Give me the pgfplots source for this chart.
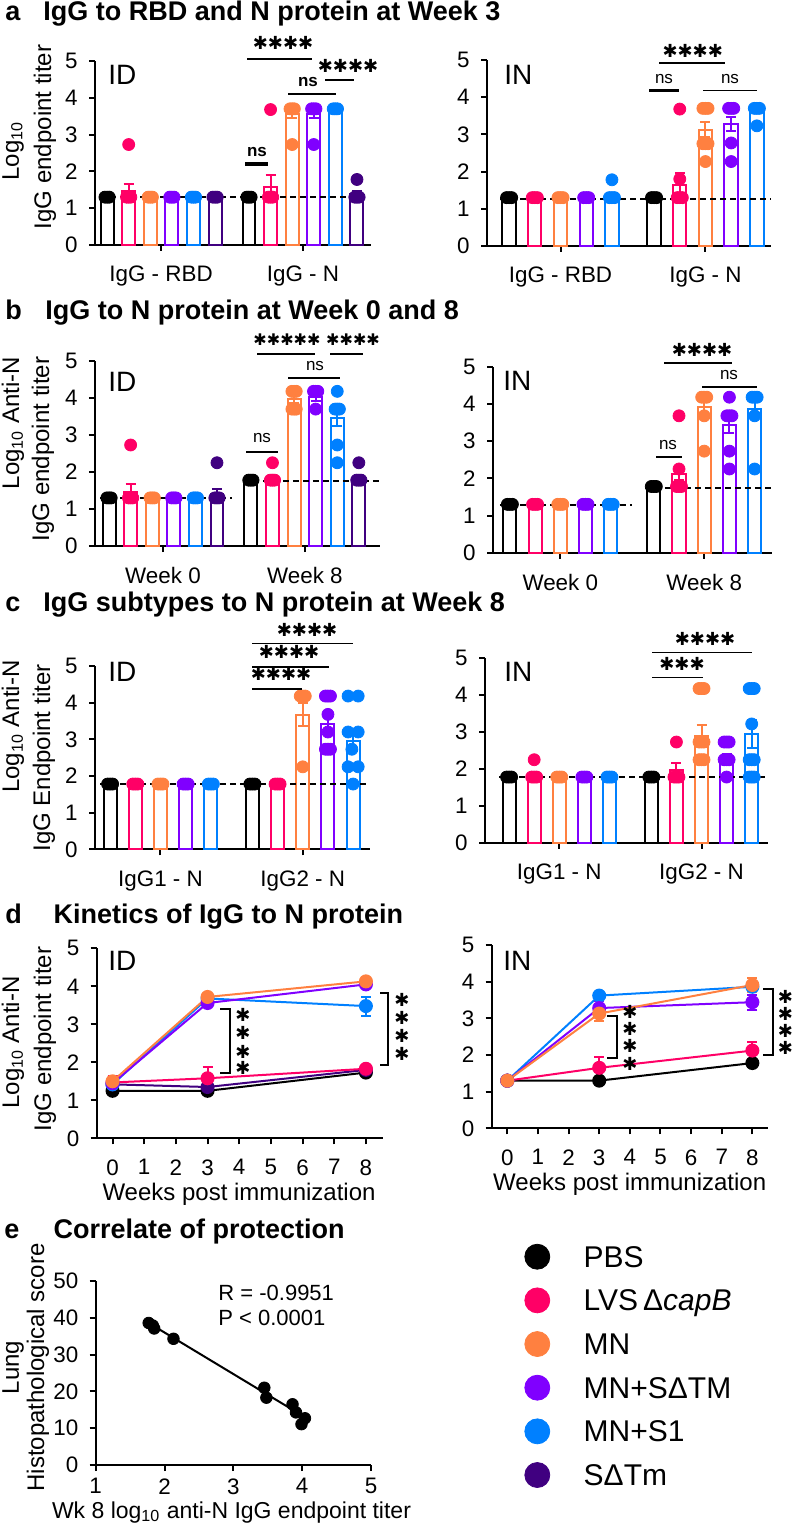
\documentclass[border=0pt]{standalone}
\usepackage{fontspec}
\setmainfont{Liberation Sans}
\newfontfamily\djv{DejaVu Sans}
\usepackage{graphicx}
\usepackage{pgfplots}
\pgfplotsset{compat=1.18}
\definecolor{cP}{RGB}{0,0,0}
\definecolor{cL}{RGB}{255,0,102}
\definecolor{cM}{RGB}{255,128,64}
\definecolor{cT}{RGB}{128,0,255}
\definecolor{cS}{RGB}{0,128,255}
\definecolor{cD}{RGB}{64,0,128}
\newcommand\mysz[1]{\fontsize{#1}{#1}\selectfont}
\newcommand\tf{\fontsize{11.2}{13}\selectfont}
\newcommand\stars[2][9]{{\djv\mysz{#1}#2}}
\pgfplotsset{
 gp/.style={scale only axis, anchor=south west, clip=false, enlargelimits=false,
   axis lines=left, axis line style={-, line width=1pt},
   every outer x axis line/.append style={-}, every outer y axis line/.append style={-},
   tick align=outside, major tick length=3pt, tick style={line width=1pt, black},
   every tick label/.append style={font=\tf},
   xticklabel style={yshift=-4pt},
   yticklabel style={xshift=-2.2pt},
   /pgf/number format/assume math mode=true,
   yticklabel={\tf\pgfmathprintnumber{\tick}},
   xticklabel={\tf\pgfmathprintnumber{\tick}},
   ymin=0, ymax=5, ytick={0,...,5}},
 B/.style={ybar, bar shift=0pt, fill=white, draw=#1, line width=1pt,
   /pgfplots/error bars/y dir=both, /pgfplots/error bars/y explicit,
   /pgfplots/error bars/error bar style={draw=#1, line width=1pt},
   /pgfplots/error bars/error mark options={draw=#1, rotate=90, mark size=2.5pt, line width=1pt}},
 D/.style={only marks, mark=*, mark size=3pt, color=#1},
 LOD/.style={black, line width=1pt, dash pattern=on 3pt off 2pt},
 L/.style={color=#1, line width=1pt, mark=*, mark size=3pt, mark options={solid, fill=#1},
   /pgfplots/error bars/y dir=both, /pgfplots/error bars/y explicit,
   /pgfplots/error bars/error bar style={draw=#1, line width=1pt},
   /pgfplots/error bars/error mark options={draw=#1, rotate=90, mark size=2.5pt, line width=1pt}},
}
\begin{document}
\begin{tikzpicture}
\useasboundingbox (0,0) rectangle (396.5pt,-762pt);
% ---------------- a ID
\begin{axis}[gp, at={(47.5pt,-122.5pt)}, width=138pt, height=92pt, xmin=-0.56, xmax=12.22, bar width=0.6,
  xtick={2.5,9.07}, xticklabels={{\tf IgG - RBD}, {\tf IgG - N}}]
\addplot[B=cP] coordinates {(0,1.3)+-(0,0) (6.57,1.3)+-(0,0)};
\addplot[B=cL] coordinates {(1,1.46)+-(0,0.2) (7.57,1.58)+-(0,0.32)};
\addplot[B=cM] coordinates {(2,1.3)+-(0,0) (8.57,3.55)+-(0,0.1)};
\addplot[B=cT] coordinates {(3,1.3)+-(0,0) (9.57,3.55)+-(0,0.1)};
\addplot[B=cS] coordinates {(4,1.3)+-(0,0) (10.57,3.7)+-(0,0)};
\addplot[B=cD] coordinates {(5,1.3)+-(0,0) (11.57,1.38)+-(0,0.08)};
\addplot[LOD] coordinates {(-0.32,1.3) (11.94,1.3)};
\addplot[D=cP] coordinates {(-0.1,1.3)(0,1.3)(0.1,1.3)(6.47,1.3)(6.57,1.3)(6.67,1.3)};
\addplot[D=cL] coordinates {(0.9,1.3)(1,1.3)(1.1,1.3)(1,2.73)(7.47,1.3)(7.57,1.3)(7.67,1.3)(7.57,3.68)};
\addplot[D=cM] coordinates {(1.9,1.3)(2,1.3)(2.1,1.3)(8.47,3.7)(8.57,3.7)(8.67,3.7)(8.57,2.73)};
\addplot[D=cT] coordinates {(2.9,1.3)(3,1.3)(3.1,1.3)(9.47,3.7)(9.57,3.7)(9.67,3.7)(9.57,2.73)};
\addplot[D=cS] coordinates {(3.9,1.3)(4,1.3)(4.1,1.3)(10.47,3.7)(10.57,3.7)(10.67,3.7)};
\addplot[D=cD] coordinates {(4.9,1.3)(5,1.3)(5.1,1.3)(11.47,1.3)(11.57,1.3)(11.67,1.3)(11.57,1.78)};
\end{axis}
% ---------------- a IN
\begin{axis}[gp, at={(243.5pt,-123pt)}, width=142pt, height=93pt, xmin=-0.86, xmax=10.19, bar width=0.52,
  xtick={2,7.64}, xticklabels={{\tf IgG - RBD}, {\tf IgG - N}}]
\addplot[B=cP] coordinates {(0,1.3)+-(0,0) (5.64,1.3)+-(0,0)};
\addplot[B=cL] coordinates {(1,1.3)+-(0,0) (6.64,1.64)+-(0,0.31)};
\addplot[B=cM] coordinates {(2,1.3)+-(0,0) (7.64,3.13)+-(0,0.21)};
\addplot[B=cT] coordinates {(3,1.3)+-(0,0) (8.64,3.28)+-(0,0.2)};
\addplot[B=cS] coordinates {(4,1.3)+-(0,0) (9.64,3.65)+-(0,0)};
\addplot[LOD] coordinates {(-0.35,1.27) (10.19,1.27)};
\addplot[D=cP] coordinates {(-0.1,1.3)(0,1.3)(0.1,1.3)(5.54,1.3)(5.64,1.3)(5.74,1.3)};
\addplot[D=cL] coordinates {(0.9,1.3)(1,1.3)(1.1,1.3)(6.54,1.3)(6.64,1.3)(6.74,1.3)(6.64,1.8)(6.64,3.68)};
\addplot[D=cM] coordinates {(1.9,1.3)(2,1.3)(2.1,1.3)(7.54,3.7)(7.64,3.7)(7.74,3.7)(7.54,2.75)(7.64,2.75)(7.74,2.75)(7.64,2.27)};
\addplot[D=cT] coordinates {(2.9,1.3)(3,1.3)(3.1,1.3)(8.54,3.7)(8.64,3.7)(8.74,3.7)(8.64,2.77)(8.64,2.27)};
\addplot[D=cS] coordinates {(3.9,1.3)(4,1.3)(4.1,1.3)(4,1.78)(9.54,3.7)(9.64,3.7)(9.74,3.7)(9.64,3.23)};
\end{axis}
% ---------------- b ID
\begin{axis}[gp, at={(47.5pt,-273pt)}, width=142.5pt, height=92.5pt, xmin=-0.65, xmax=12.55, bar width=0.6,
  xtick={2.5,9.07}, xticklabels={{\tf Week 0}, {\tf Week 8}}]
\addplot[B=cP] coordinates {(0,1.3)+-(0,0) (6.57,1.78)+-(0,0)};
\addplot[B=cL] coordinates {(1,1.47)+-(0,0.2) (7.57,1.8)+-(0,0)};
\addplot[B=cM] coordinates {(2,1.3)+-(0,0) (8.57,3.97)+-(0,0.1)};
\addplot[B=cT] coordinates {(3,1.3)+-(0,0) (9.57,4.03)+-(0,0.1)};
\addplot[B=cS] coordinates {(4,1.3)+-(0,0) (10.57,3.45)+-(0,0.2)};
\addplot[B=cD] coordinates {(5,1.4)+-(0,0.13) (11.57,1.8)+-(0,0)};
\addplot[LOD] coordinates {(-0.4,1.3) (5.7,1.3)};
\addplot[LOD] coordinates {(6.2,1.75) (12.5,1.75)};
\addplot[D=cP] coordinates {(-0.1,1.3)(0,1.3)(0.1,1.3)(6.47,1.78)(6.57,1.78)(6.67,1.78)};
\addplot[D=cL] coordinates {(0.9,1.3)(1,1.3)(1.1,1.3)(1,2.73)(7.47,1.78)(7.57,1.78)(7.67,1.78)(7.57,2.25)};
\addplot[D=cM] coordinates {(1.9,1.3)(2,1.3)(2.1,1.3)(8.47,4.18)(8.57,4.18)(8.67,4.18)(8.47,3.7)(8.57,3.7)(8.67,3.7)};
\addplot[D=cT] coordinates {(2.9,1.3)(3,1.3)(3.1,1.3)(9.47,4.18)(9.57,4.18)(9.67,4.18)(9.57,3.7)};
\addplot[D=cS] coordinates {(3.9,1.3)(4,1.3)(4.1,1.3)(10.57,4.18)(10.47,3.7)(10.57,3.7)(10.67,3.7)(10.57,2.73)(10.57,2.25)};
\addplot[D=cD] coordinates {(4.9,1.3)(5,1.3)(5.1,1.3)(5,2.25)(11.47,1.78)(11.57,1.78)(11.67,1.78)(11.57,2.25)};
\end{axis}
% ---------------- b IN
\begin{axis}[gp, at={(246.5pt,-276.35pt)}, width=139.5pt, height=93pt, xmin=-0.67, xmax=10.4, bar width=0.52,
  xtick={2,7.71}, xticklabels={{\tf Week 0}, {\tf Week 8}}]
\addplot[B=cP] coordinates {(0,1.3)+-(0,0) (5.71,1.78)+-(0,0)};
\addplot[B=cL] coordinates {(1,1.3)+-(0,0) (6.71,2.12)+-(0,0.17)};
\addplot[B=cM] coordinates {(2,1.3)+-(0,0) (7.71,3.91)+-(0,0.15)};
\addplot[B=cT] coordinates {(3,1.3)+-(0,0) (8.71,3.43)+-(0,0.2)};
\addplot[B=cS] coordinates {(4,1.3)+-(0,0) (9.71,3.85)+-(0,0.2)};
\addplot[LOD] coordinates {(-0.4,1.27) (4.84,1.27)};
\addplot[LOD] coordinates {(5.36,1.75) (10.4,1.75)};
\addplot[D=cP] coordinates {(-0.1,1.3)(0,1.3)(0.1,1.3)(5.61,1.78)(5.71,1.78)(5.81,1.78)};
\addplot[D=cL] coordinates {(0.9,1.3)(1,1.3)(1.1,1.3)(6.61,1.78)(6.71,1.78)(6.81,1.78)(6.71,2.25)(6.71,3.68)};
\addplot[D=cM] coordinates {(1.9,1.3)(2,1.3)(2.1,1.3)(7.61,4.18)(7.71,4.18)(7.81,4.18)(7.71,3.68)(7.71,2.73)};
\addplot[D=cT] coordinates {(2.9,1.3)(3,1.3)(3.1,1.3)(8.71,4.18)(8.61,3.68)(8.71,3.68)(8.81,3.68)(8.71,2.73)(8.71,2.25)};
\addplot[D=cS] coordinates {(3.9,1.3)(4,1.3)(4.1,1.3)(9.61,4.18)(9.71,4.18)(9.81,4.18)(9.71,3.68)(9.71,2.25)};
\end{axis}
% ---------------- c ID
\begin{axis}[gp, at={(47.5pt,-424.65pt)}, width=137.5pt, height=91.65pt, xmin=-0.6, xmax=10.32, bar width=0.52,
  xtick={2,7.65}, xticklabels={{\tf IgG1 - N}, {\tf IgG2 - N}}]
\addplot[B=cP] coordinates {(0,1.78)+-(0,0) (5.65,1.78)+-(0,0)};
\addplot[B=cL] coordinates {(1,1.78)+-(0,0) (6.65,1.78)+-(0,0)};
\addplot[B=cM] coordinates {(2,1.78)+-(0,0) (7.65,3.67)+-(0,0.31)};
\addplot[B=cT] coordinates {(3,1.78)+-(0,0) (8.65,3.42)+-(0,0.18)};
\addplot[B=cS] coordinates {(4,1.78)+-(0,0) (9.65,2.95)+-(0,0.25)};
\addplot[LOD] coordinates {(-0.4,1.77) (10.3,1.77)};
\addplot[D=cP] coordinates {(-0.1,1.78)(0,1.78)(0.1,1.78)(5.55,1.78)(5.65,1.78)(5.75,1.78)};
\addplot[D=cL] coordinates {(0.9,1.78)(1,1.78)(1.1,1.78)(6.55,1.78)(6.65,1.78)(6.75,1.78)};
\addplot[D=cM] coordinates {(1.9,1.78)(2,1.78)(2.1,1.78)(7.55,4.18)(7.65,4.18)(7.75,4.18)(7.65,2.25)};
\addplot[D=cT] coordinates {(2.9,1.78)(3,1.78)(3.1,1.78)(8.55,4.18)(8.65,4.18)(8.75,4.18)(8.65,3.68)(8.65,3.2)(8.55,2.73)(8.65,2.73)(8.75,2.73)};
\addplot[D=cS] coordinates {(3.9,1.78)(4,1.78)(4.1,1.78)(9.45,4.18)(9.85,4.18)(9.45,3.2)(9.85,3.2)(9.6,2.73)(9.45,2.25)(9.85,2.25)(9.65,1.78)};
\end{axis}
% ---------------- c IN
\begin{axis}[gp, at={(242.5pt,-421.35pt)}, width=141.5pt, height=92.2pt, xmin=-0.96, xmax=10.32, bar width=0.52,
  xtick={2,7.67}, xticklabels={{\tf IgG1 - N}, {\tf IgG2 - N}}]
\addplot[B=cP] coordinates {(0,1.78)+-(0,0) (5.67,1.78)+-(0,0)};
\addplot[B=cL] coordinates {(1,1.85)+-(0,0.07) (6.67,1.98)+-(0,0.17)};
\addplot[B=cM] coordinates {(2,1.78)+-(0,0) (7.67,2.9)+-(0,0.3)};
\addplot[B=cT] coordinates {(3,1.78)+-(0,0) (8.67,2.3)+-(0,0.1)};
\addplot[B=cS] coordinates {(4,1.78)+-(0,0) (9.67,2.96)+-(0,0.38)};
\addplot[LOD] coordinates {(-0.4,1.77) (10.3,1.77)};
\addplot[D=cP] coordinates {(-0.1,1.78)(0,1.78)(0.1,1.78)(5.57,1.78)(5.67,1.78)(5.77,1.78)};
\addplot[D=cL] coordinates {(0.9,1.78)(1,1.78)(1.1,1.78)(1,2.25)(6.57,1.78)(6.67,1.78)(6.77,1.78)(6.67,2.73)};
\addplot[D=cM] coordinates {(1.9,1.78)(2,1.78)(2.1,1.78)(7.57,4.18)(7.67,4.18)(7.77,4.18)(7.57,2.73)(7.67,2.73)(7.77,2.73)(7.57,2.25)(7.67,2.25)(7.77,2.25)};
\addplot[D=cT] coordinates {(2.9,1.78)(3,1.78)(3.1,1.78)(8.57,2.73)(8.67,2.73)(8.77,2.73)(8.57,2.25)(8.67,2.25)(8.77,2.25)(8.67,1.78)};
\addplot[D=cS] coordinates {(3.9,1.78)(4,1.78)(4.1,1.78)(9.57,4.18)(9.67,4.18)(9.77,4.18)(9.67,3.22)(9.57,2.25)(9.67,2.25)(9.77,2.25)(9.57,1.78)(9.67,1.78)(9.77,1.78)};
\end{axis}
% ---------------- d ID
\begin{axis}[gp, at={(48.35pt,-569.15pt)}, width=143.15pt, height=95pt, xmin=-0.5, xmax=8.54, xtick={0,...,8}]
\addplot[L=cP] coordinates {(0,1.25)+-(0,0) (3,1.25)+-(0,0) (8,1.73)+-(0,0)};
\addplot[L=cD] coordinates {(0,1.42)+-(0,0) (3,1.35)+-(0,0) (8,1.8)+-(0,0)};
\addplot[L=cL] coordinates {(0,1.47)+-(0,0.18) (3,1.58)+-(0,0.3) (8,1.83)+-(0,0.03)};
\addplot[L=cS] coordinates {(0,1.42)+-(0,0) (3,3.68)+-(0,0) (8,3.48)+-(0,0.25)};
\addplot[L=cT] coordinates {(0,1.45)+-(0,0) (3,3.56)+-(0,0) (8,4.05)+-(0,0)};
\addplot[L=cM] coordinates {(0,1.5)+-(0,0) (3,3.72)+-(0,0) (8,4.13)+-(0,0)};
\end{axis}
% ---------------- d IN
\begin{axis}[gp, at={(245.85pt,-564.15pt)}, width=138.3pt, height=91.65pt, xmin=-0.51, xmax=8.52, xtick={0,...,8}]
\addplot[L=cP] coordinates {(0,1.3)+-(0,0) (3,1.3)+-(0,0) (8,1.78)+-(0,0)};
\addplot[L=cL] coordinates {(0,1.3)+-(0,0) (3,1.65)+-(0,0.3) (8,2.12)+-(0,0.23)};
\addplot[L=cS] coordinates {(0,1.3)+-(0,0) (3,3.62)+-(0,0) (8,3.86)+-(0,0)};
\addplot[L=cT] coordinates {(0,1.3)+-(0,0) (3,3.28)+-(0,0.2) (8,3.44)+-(0,0.2)};
\addplot[L=cM] coordinates {(0,1.3)+-(0,0) (3,3.13)+-(0,0.2) (8,3.91)+-(0,0.18)};
\end{axis}
% ---------------- e
\begin{axis}[gp, at={(47.85pt,-732.5pt)}, width=137.65pt, height=92pt, xmin=1, xmax=5, ymin=0, ymax=50,
  ytick={0,10,...,50}, xtick={1,...,5}, xticklabel style={inner sep=1pt, yshift=1.5pt}]
\addplot[black, line width=1pt] coordinates {(1.77,38.6) (3.88,14.8)};
\addplot[D=black, mark size=2.9pt] coordinates {(1.77,38.6)(1.83,37.9)(1.85,37.1)(2.13,34.3)(3.45,21.0)(3.48,18.3)(3.86,16.5)(3.91,14.3)(4.04,12.7)(3.99,11.1)};
\end{axis}
% ---------------- legend
\begin{axis}[scale only axis, anchor=south west, at={(268.65pt,-737.5pt)}, width=10pt, height=109.15pt,
  hide axis, xmin=0, xmax=1, ymin=0, ymax=5, clip=false]
\addplot[only marks, mark=*, mark size=6.25pt, color=cP] coordinates {(0,5)};
\addplot[only marks, mark=*, mark size=6.25pt, color=cL] coordinates {(0,4)};
\addplot[only marks, mark=*, mark size=6.25pt, color=cM] coordinates {(0,3)};
\addplot[only marks, mark=*, mark size=6.25pt, color=cT] coordinates {(0,2)};
\addplot[only marks, mark=*, mark size=6.25pt, color=cS] coordinates {(0,1)};
\addplot[only marks, mark=*, mark size=6.25pt, color=cD] coordinates {(0,0)};
\tikzset{lg/.style={anchor=base west, inner sep=0pt, font=\mysz{15}, xshift=23pt, yshift=-5.3pt}}
\node[lg] at (axis cs:0,5) {PBS};
\node[lg] at (axis cs:0,4) {LVS\,Δ\textit{capB}};
\node[lg] at (axis cs:0,3) {MN};
\node[lg] at (axis cs:0,2) {MN+SΔTM};
\node[lg] at (axis cs:0,1) {MN+S1};
\node[lg] at (axis cs:0,0) {SΔTm};
\end{axis}
% ---------------- texts and annotations (pixel coordinates)
\begin{scope}[x=0.5pt,y=-0.5pt]
\tikzset{tt/.style={anchor=base west, inner sep=0pt, font=\mysz{13.5}\bfseries},
  yl/.style={rotate=90, inner sep=0pt, font=\mysz{12}},
  pn/.style={anchor=base west, inner sep=0pt, font=\mysz{14}},
  ns/.style={font=\mysz{8.5}, inner sep=0pt},
  st/.style={inner sep=0pt},
  al/.style={line width=0.8pt}}
\node[tt] at (5,20.7) {a}; \node[tt] at (43,20.7) {IgG to RBD and N protein at Week 3};
\node[tt] at (5,320) {b}; \node[tt] at (45,320) {IgG to N protein at Week 0 and 8};
\node[tt] at (5,611.7) {c}; \node[tt] at (43,611.7) {IgG subtypes to N protein at Week 8};
\node[tt] at (5,923.3) {d}; \node[tt] at (53.3,923.3) {Kinetics of IgG to N protein};
\node[tt] at (4,1238) {e}; \node[tt] at (53.3,1238) {Correlate of protection};
% y labels
\node[yl] at (13,151) {Log\textsubscript{10}};
\node[yl] at (45,137) {IgG endpoint titer};
\node[yl] at (13,423) {Log\textsubscript{10} Anti-N};
\node[yl] at (43,449) {IgG endpoint titer};
\node[yl] at (13,726.7) {Log\textsubscript{10} Anti-N};
\node[yl] at (44,758) {IgG Endpoint titer};
\node[yl] at (13,1042.5) {Log\textsubscript{10} Anti-N};
\node[yl] at (45,1039) {IgG endpoint titer};
\node[yl] at (13,1367.5) {Lung};
\node[yl] at (38,1367.5) {Histopathological score};
% x labels
\node[anchor=base, inner sep=0pt, font=\mysz{12}] at (239,1200) {Weeks post immunization};
\node[anchor=base, inner sep=0pt, font=\mysz{12}] at (629.7,1190) {Weeks post immunization};
\node[anchor=base, inner sep=0pt, font=\mysz{11.5}] at (231.5,1518) {Wk 8 log\textsubscript{10} anti-N IgG endpoint titer};
\node[anchor=base west, font=\mysz{11}, inner sep=0pt] at (218,1300) {R = -0.9951};
\node[anchor=base west, font=\mysz{11}, inner sep=0pt] at (218,1325) {P < 0.0001};
% panel labels
\node[pn] at (108,85) {ID}; \node[pn] at (504,85) {IN};
\node[pn] at (108,391.7) {ID}; \node[pn] at (503,390) {IN};
\node[pn] at (108,681.7) {ID}; \node[pn] at (504,681.7) {IN};
\node[pn] at (108,970.7) {ID}; \node[pn] at (503,970.7) {IN};
% a ID annotations
\draw[al] (247,59.3) -- (312,59.3); \node[st] at (283,43) {\stars{✱✱✱✱}};
\draw[al] (325,80) -- (354,80); \node[st] at (348,66) {\stars{✱✱✱✱}};
\node[ns, font=\mysz{8.5}\bfseries] at (308,82) {ns}; \draw[al] (288,94) -- (336,94);
\node[ns, font=\mysz{8.5}\bfseries] at (257,152) {ns}; \draw[line width=1.7pt] (245,164) -- (268,164);
% a IN
\draw[al] (659.3,63.3) -- (725,63.3); \node[st] at (692.7,50.7) {\stars{✱✱✱✱}};
\node[ns] at (664,79) {ns}; \draw[line width=1.7pt] (649.3,90.7) -- (679.3,90.7);
\node[ns] at (730,79) {ns}; \draw[al] (703.3,90.7) -- (756.7,90.7);
% b ID
\draw[al] (257,354) -- (315,354); \draw[al] (330,354) -- (363,354);
\node[st] at (287,340) {\stars[8]{✱✱✱✱✱}}; \node[st] at (353,340) {\stars[8]{✱✱✱✱}};
\node[ns] at (315,366) {ns}; \draw[al] (288,378) -- (340,378);
\node[ns] at (262,438) {ns}; \draw[al] (246,452) -- (278,452);
% b IN
\draw[al] (664,362.7) -- (732,362.7); \node[st] at (702,350) {\stars{✱✱✱✱}};
\node[ns] at (729,375) {ns}; \draw[al] (702,387) -- (757,387);
\node[ns] at (668,445) {ns}; \draw[al] (656,457) -- (682,457);
% c ID
\draw[al] (252,643.3) -- (353,643.3); \node[st] at (307,630) {\stars{✱✱✱✱}};
\draw[al] (252,666.7) -- (329,666.7); \node[st] at (289,651.7) {\stars{✱✱✱✱}};
\draw[al] (252,689) -- (302,689); \node[st] at (281,674.3) {\stars{✱✱✱✱}};
% c IN
\draw[al] (652,652.3) -- (752,652.3); \node[st] at (705,639.3) {\stars{✱✱✱✱}};
\draw[al] (652,677.3) -- (703,677.3); \node[st] at (682,664) {\stars{✱✱✱}};
% d brackets
\draw[line width=1pt] (220,1009) -- (230,1009) -- (230,1072.7) -- (220,1072.7);
\foreach \yy in {1015,1033.3,1051.7,1068.3} \node[st] at (243,\yy) {\stars{✱}};
\draw[line width=1pt] (380,993) -- (388,993) -- (388,1065) -- (380,1065);
\foreach \yy in {1000,1018,1036,1054} \node[st] at (402,\yy) {\stars{✱}};
\draw[line width=1pt] (606.7,1016) -- (616.7,1016) -- (616.7,1058) -- (606.7,1058);
\foreach \yy in {1011.7,1029,1046.3,1063.5} \node[st] at (630,\yy) {\stars{✱}};
\draw[line width=1pt] (763,989.3) -- (772.7,989.3) -- (772.7,1055) -- (763,1055);
\foreach \yy in {996.7,1013.9,1031.1,1048.3} \node[st] at (785.5,\yy) {\stars{✱}};
\end{scope}
\end{tikzpicture}
\end{document}
